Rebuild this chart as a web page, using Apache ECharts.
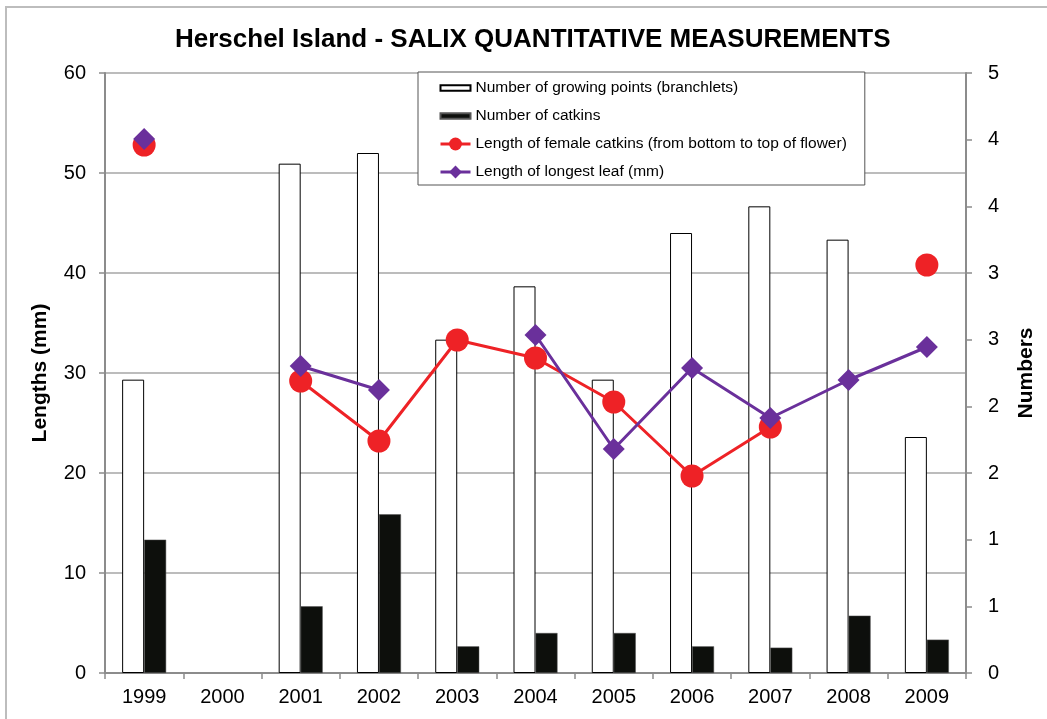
<!DOCTYPE html>
<html>
<head>
<meta charset="utf-8">
<title>Herschel Island - SALIX</title>
<script src="https://cdn.jsdelivr.net/npm/echarts@6/dist/echarts.min.js"></script>
<style>
  html, body { margin: 0; padding: 0; background: #fff; }
  #main { width: 1047px; height: 719px; }
</style>
</head>
<body>
<div id="main"></div>
<script>
// values
var years = ['1999', '2000', '2001', '2002', '2003', '2004', '2005', '2006', '2007', '2008', '2009'];
var growingPoints = [2.2, null, 3.82, 3.9, 2.5, 2.9, 2.2, 3.3, 3.5, 3.25, 1.77];
var catkins = [1.0, null, 0.5, 1.19, 0.2, 0.3, 0.3, 0.2, 0.19, 0.43, 0.25];
var femaleCatkinLength = [52.8, null, 29.2, 23.2, 33.3, 31.5, 27.1, 19.7, 24.6, null, 40.8];
var longestLeaf = [53.4, null, 30.7, 28.3, null, 33.8, 22.4, 30.5, 25.5, 29.3, 32.6];

var font = '"Liberation Sans", Arial, sans-serif';
var axisGray = '#8c8c8c';
var barIcon = 'path://M0,0H32V6H0Z';

var chart = echarts.init(document.getElementById('main'));
chart.setOption({
  animation: false,
  textStyle: { fontFamily: font },
  graphic: [{
    type: 'rect',
    shape: { x: 6, y: 7, width: 1100, height: 800 },
    style: { fill: 'none', stroke: '#bdbdbd', lineWidth: 2 },
    silent: true
  }],
  title: {
    text: 'Herschel Island - SALIX QUANTITATIVE MEASUREMENTS',
    left: 170,
    top: 22,
    textStyle: { fontSize: 26, fontWeight: 'bold', color: '#000', fontFamily: font }
  },
  legend: {
    orient: 'vertical',
    left: 418,
    top: 72,
    padding: [8, 18, 5, 21],
    itemGap: 12,
    itemWidth: 30,
    itemHeight: 16,
    backgroundColor: '#fff',
    borderColor: '#555',
    borderWidth: 1,
    borderRadius: 0,
    lineStyle: { width: 3 },
    textStyle: { fontSize: 15.5, color: '#000', fontFamily: font },
    data: [
      { name: 'Number of growing points (branchlets)', icon: barIcon },
      { name: 'Number of catkins', icon: barIcon },
      'Length of female catkins (from bottom to top of flower)',
      'Length of longest leaf (mm)'
    ]
  },
  grid: { left: 105, right: 81, top: 73, bottom: 46 },
  xAxis: {
    type: 'category',
    data: years,
    boundaryGap: true,
    axisLine: { lineStyle: { color: axisGray, width: 2 } },
    axisTick: { show: true, length: 6, lineStyle: { color: axisGray, width: 1.5 } },
    axisLabel: { fontSize: 20, color: '#000', margin: 14 },
    splitLine: { show: false }
  },
  yAxis: [{
    type: 'value',
    min: 0,
    max: 60,
    interval: 10,
    name: 'Lengths (mm)',
    nameLocation: 'middle',
    nameGap: 54,
    nameRotate: 90,
    nameTextStyle: { fontSize: 21, fontWeight: 'bold', color: '#000' },
    axisLine: { show: true, lineStyle: { color: axisGray, width: 2 } },
    axisTick: { show: true, length: 6, lineStyle: { color: axisGray, width: 1.5 } },
    axisLabel: { fontSize: 20, color: '#000', margin: 19 },
    splitLine: { show: true, lineStyle: { color: '#a6a6a6', width: 1.5 } }
  }, {
    type: 'value',
    min: 0,
    max: 4.5,
    interval: 0.5,
    position: 'right',
    name: 'Numbers',
    nameLocation: 'middle',
    nameGap: 50,
    nameRotate: 90,
    nameTextStyle: { fontSize: 21, fontWeight: 'bold', color: '#000' },
    axisLine: { show: true, lineStyle: { color: axisGray, width: 2 } },
    axisTick: { show: true, length: 6, lineStyle: { color: axisGray, width: 1.5 } },
    axisLabel: {
      fontSize: 20, color: '#000', margin: 22,
      formatter: function (v) { return Math.round(v); }
    },
    splitLine: { show: false }
  }],
  series: [
    {
      name: 'Number of growing points (branchlets)',
      type: 'bar',
      yAxisIndex: 1,
      barWidth: 22,
      barGap: '0%',
      itemStyle: { color: '#fff', borderColor: '#000', borderWidth: 1 },
      data: growingPoints
    },
    {
      name: 'Number of catkins',
      type: 'bar',
      yAxisIndex: 1,
      barWidth: 22,
      barGap: '0%',
      itemStyle: { color: '#0d0f0c', borderColor: '#555', borderWidth: 0.5 },
      data: catkins
    },
    {
      name: 'Length of female catkins (from bottom to top of flower)',
      type: 'line',
      yAxisIndex: 0,
      symbol: 'circle',
      symbolSize: 23,
      showSymbol: true,
      connectNulls: false,
      lineStyle: { color: '#ee2226', width: 3 },
      itemStyle: { color: '#ee2226' },
      data: femaleCatkinLength
    },
    {
      name: 'Length of longest leaf (mm)',
      type: 'line',
      yAxisIndex: 0,
      symbol: 'diamond',
      symbolSize: 22,
      showSymbol: true,
      connectNulls: false,
      lineStyle: { color: '#6a309b', width: 3 },
      itemStyle: { color: '#6a309b' },
      data: longestLeaf
    }
  ]
});
</script>
</body>
</html>
